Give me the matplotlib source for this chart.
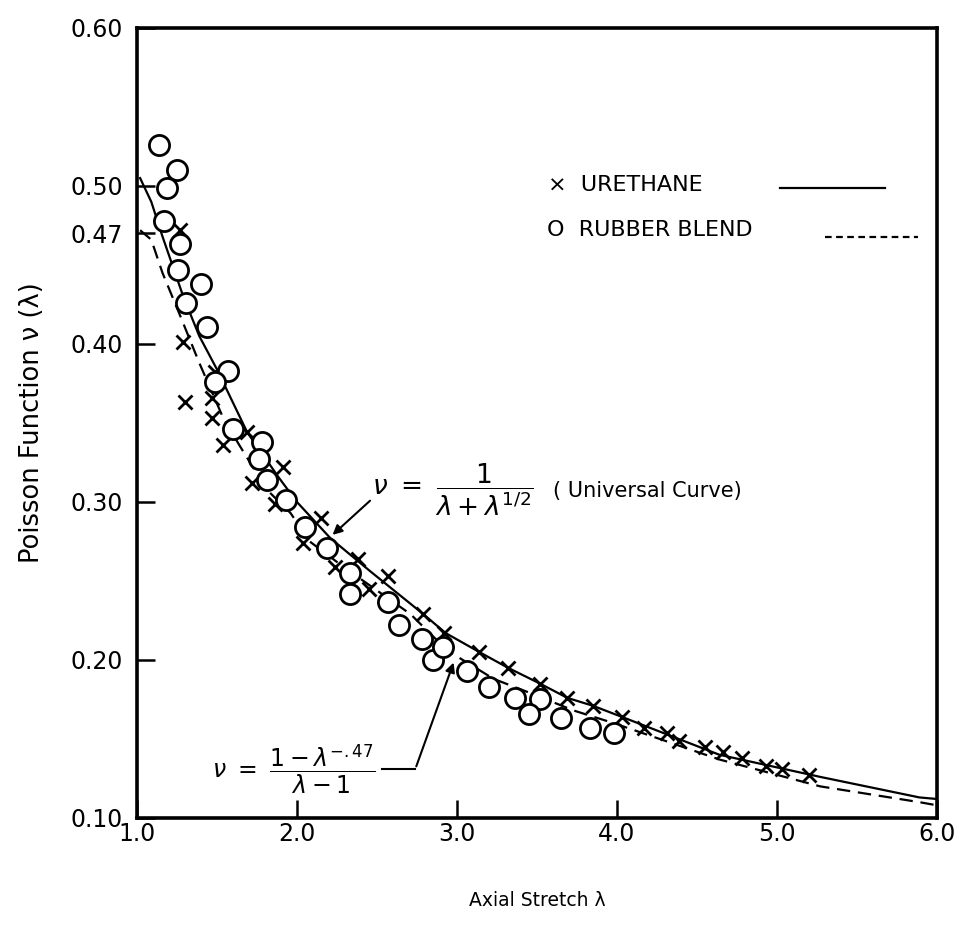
import numpy as np
import matplotlib.pyplot as plt

# ---- data ----
# urethane (crosses)
urethaneX = [1.27, 1.29, 1.30, 1.49, 1.47, 1.47, 1.54, 1.69, 1.72, 1.86, 1.91,
             2.04, 2.15, 2.24, 2.38, 2.45, 2.57, 2.79, 2.92, 3.14, 3.32, 3.52,
             3.69, 3.85, 4.03, 4.17, 4.31, 4.39, 4.55, 4.66, 4.78, 4.93, 5.03, 5.20]
urethaneY = [0.472, 0.401, 0.363, 0.382, 0.366, 0.353, 0.336, 0.344, 0.312, 0.299, 0.322,
             0.274, 0.290, 0.259, 0.264, 0.245, 0.253, 0.229, 0.217, 0.205, 0.195, 0.185,
             0.176, 0.171, 0.164, 0.157, 0.154, 0.149, 0.145, 0.142, 0.138, 0.133, 0.131, 0.127]

# rubber blend (circles)
rubberX = [1.14, 1.25, 1.19, 1.17, 1.27, 1.26, 1.40, 1.31, 1.44, 1.57, 1.49,
           1.60, 1.78, 1.76, 1.81, 1.93, 2.05, 2.19, 2.33, 2.33, 2.57, 2.64,
           2.78, 2.85, 2.91, 3.06, 3.20, 3.36, 3.52, 3.45, 3.65, 3.83, 3.98]
rubberY = [0.526, 0.510, 0.499, 0.478, 0.463, 0.447, 0.438, 0.426, 0.411, 0.383, 0.376,
           0.346, 0.338, 0.327, 0.314, 0.301, 0.284, 0.271, 0.255, 0.242, 0.237, 0.222,
           0.213, 0.200, 0.208, 0.193, 0.183, 0.176, 0.175, 0.166, 0.163, 0.157, 0.154]

# universal curve (solid), traced
solidX = [1.02, 1.09, 1.16, 1.29, 1.39, 1.50, 1.69, 1.89, 2.00, 2.21, 2.46, 2.79,
          2.93, 3.14, 3.32, 3.52, 3.69, 3.85, 4.03, 4.64, 5.27, 5.89, 6.00]
solidY = [0.505, 0.490, 0.468, 0.430, 0.405, 0.384, 0.344, 0.315, 0.300, 0.277, 0.256, 0.229,
          0.217, 0.205, 0.195, 0.185, 0.176, 0.171, 0.164, 0.140, 0.126, 0.113, 0.112]

# rubber blend curve (dashed), traced
dashX = [1.02, 1.09, 1.16, 1.27, 1.39, 1.54, 1.64, 1.81, 1.96, 2.08, 2.29, 2.50,
         2.71, 2.94, 3.23, 3.46, 3.73, 3.98, 4.64, 5.27, 5.89, 6.00]
dashY = [0.472, 0.466, 0.445, 0.418, 0.388, 0.353, 0.336, 0.308, 0.293, 0.275, 0.259, 0.244,
         0.229, 0.206, 0.188, 0.179, 0.168, 0.160, 0.137, 0.120, 0.110, 0.108]

xTicks = [1, 2, 3, 4, 5, 6]
xTickLabels = ['1.0', '2.0', '3.0', '4.0', '5.0', '6.0']
yTicks = [0.10, 0.20, 0.30, 0.40, 0.47, 0.50, 0.60]
yTickLabels = ['0.10', '0.20', '0.30', '0.40', '0.47', '0.50', '0.60']

# ---- figure ----
fig = plt.figure(figsize=(9.64, 9.33), dpi=100)
ax = fig.add_axes([0.142, 0.1233, 0.830, 0.8467])

ax.plot(solidX, solidY, color='black', lw=1.6)
ax.plot(dashX, dashY, color='black', lw=1.6, linestyle=(0, (6, 3.5)))
ax.plot(urethaneX, urethaneY, linestyle='none', marker='x', ms=10, mew=2.0, color='black')
ax.plot(rubberX, rubberY, linestyle='none', marker='o', ms=14.5, mew=2.0,
        mfc='white', mec='black')

ax.set_xlim(1, 6)
ax.set_ylim(0.10, 0.60)
ax.set_xticks(xTicks)
ax.set_xticklabels(xTickLabels)
ax.set_yticks(yTicks)
ax.set_yticklabels(yTickLabels)
ax.tick_params(direction='in', length=13, width=1.8, labelsize=17, color='black')
ax.tick_params(axis='x', pad=3)
ax.tick_params(axis='y', pad=10)
for s in ax.spines.values():
    s.set_linewidth(2.6)

ax.set_xlabel('Axial Stretch λ', fontsize=13.5, labelpad=32)
ax.set_ylabel('Poisson Function ν (λ)', fontsize=18.5, labelpad=18)

# legend drawn by hand (marker, text, line sample)
ax.text(0.514, 0.801, '×  URETHANE', transform=ax.transAxes, fontsize=16, va='center')
ax.text(0.512, 0.744, 'O  RUBBER BLEND', transform=ax.transAxes, fontsize=16, va='center')
ax.plot([0.804, 0.935], [0.797, 0.797], transform=ax.transAxes, color='black', lw=1.6)
ax.plot([0.860, 0.976], [0.735, 0.735], transform=ax.transAxes, color='black', lw=1.6,
        linestyle=(0, (3, 2)))

# universal curve annotation
ax.text(2.47, 0.308, r'$\nu\ =\ \dfrac{1}{\lambda + \lambda^{1/2}}$', fontsize=19, va='center')
ax.text(3.60, 0.307, '( Universal Curve)', fontsize=15, va='center')
ax.annotate('', xy=(2.21, 0.278), xytext=(2.47, 0.302),
            arrowprops=dict(arrowstyle='-|>', color='black', lw=1.5, mutation_scale=14))

# rubber blend curve annotation
ax.text(1.47, 0.131, r'$\nu\ =\ \dfrac{1-\lambda^{-.47}}{\lambda - 1}$', fontsize=17, va='center')
ax.plot([2.53, 2.74], [0.131, 0.131], color='black', lw=1.5)
ax.annotate('', xy=(2.985, 0.200), xytext=(2.74, 0.131),
            arrowprops=dict(arrowstyle='-|>', color='black', lw=1.5, mutation_scale=14))

plt.savefig('out.png', dpi=100)
